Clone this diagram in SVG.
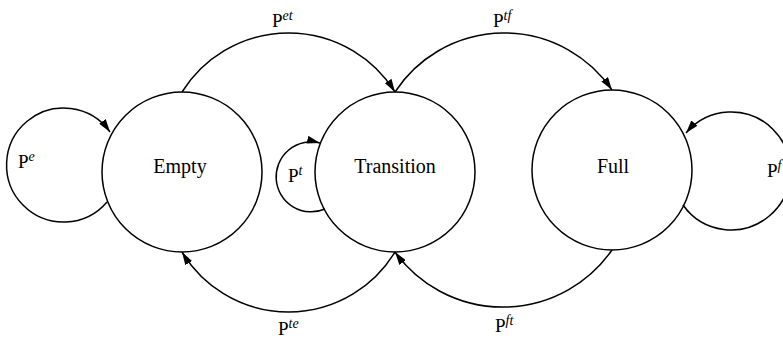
<svg xmlns="http://www.w3.org/2000/svg" width="783" height="338" viewBox="0 0 783 338">
<style>
.node{fill:#fff;stroke:#000;stroke-width:1.5}
.edge{fill:none;stroke:#000;stroke-width:1.5;marker-end:url(#arr)}
.nl{font-family:"Liberation Serif",serif;font-size:20px;fill:#000;text-anchor:middle}
.el{font-family:"Liberation Serif",serif;font-size:19px;fill:#000}
.sup{font-style:italic;font-size:14px}
</style>
<defs>
<marker id="arr" viewBox="0 0 13 8" refX="13" refY="4" markerWidth="13" markerHeight="8" markerUnits="userSpaceOnUse" orient="auto">
<path d="M0,0 L13,4 L0,8 z" fill="#000"/>
</marker>
</defs>
<g id="nodes">
<g id="empty"><circle class="node" cx="182" cy="172" r="80"/><text class="nl" x="180" y="173">Empty</text></g>
<g id="transition"><circle class="node" cx="395" cy="172" r="80"/><text class="nl" x="395" y="173">Transition</text></g>
<g id="full"><circle class="node" cx="612" cy="170" r="80"/><text class="nl" x="613" y="173">Full</text></g>
</g>
<g id="connectors">
<path class="edge" d="M107,202 A57,57 0 1,1 110,132"/>
<path class="edge" d="M325,209 A35,35 0 1,1 320,143"/>
<path class="edge" d="M683,205 A59,59 0 1,0 686,133"/>
<path class="edge" d="M182,92 A125.6,125.6 0 0,1 395,92"/>
<path class="edge" d="M395,92 A130.5,130.5 0 0,1 612,90"/>
<path class="edge" d="M395,252 A124.5,124.5 0 0,1 182,252"/>
<path class="edge" d="M612,250 A133,133 0 0,1 395,252"/>
<g id="edge-labels">
<text class="el" x="18" y="168">P<tspan class="sup" dy="-7">e</tspan></text>
<text class="el" x="288" y="182">P<tspan class="sup" dy="-7">t</tspan></text>
<text class="el" x="767" y="177">P<tspan class="sup" dy="-7">f</tspan></text>
<text class="el" x="272" y="27">P<tspan class="sup" dy="-7">et</tspan></text>
<text class="el" x="493" y="27">P<tspan class="sup" dy="-7">tf</tspan></text>
<text class="el" x="278" y="335">P<tspan class="sup" dy="-7">te</tspan></text>
<text class="el" x="495" y="332">P<tspan class="sup" dy="-7">ft</tspan></text>
</g>
</g>
</svg>
